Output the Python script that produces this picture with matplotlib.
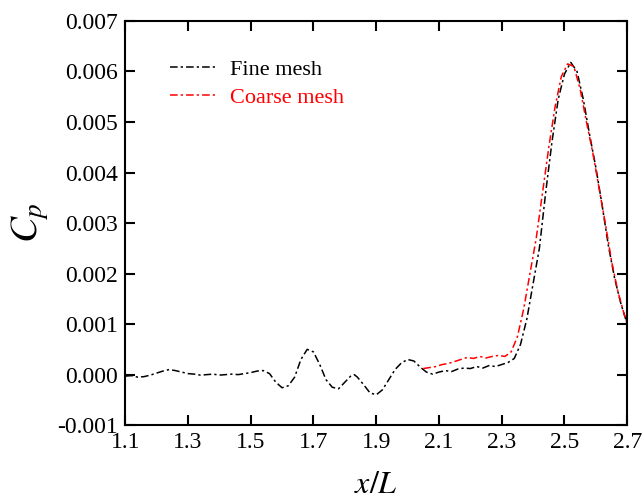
import numpy as np
import matplotlib
matplotlib.use("Agg")
import matplotlib.pyplot as plt

plt.rcParams["font.family"] = ["Liberation Serif", "DejaVu Serif"]
plt.rcParams["mathtext.fontset"] = "stix"

# Fine mesh pressure coefficient along x/L
fine_x = [1.10, 1.12, 1.14, 1.16, 1.18, 1.20, 1.22, 1.24, 1.26, 1.28,
          1.30, 1.32, 1.34, 1.36, 1.38, 1.40, 1.42, 1.44, 1.46, 1.48,
          1.50, 1.52, 1.54, 1.56, 1.58, 1.60, 1.62, 1.64, 1.66, 1.68,
          1.70, 1.72, 1.74, 1.76, 1.78, 1.80, 1.82, 1.83, 1.84, 1.86,
          1.88, 1.90, 1.92, 1.94, 1.96, 1.98, 2.00, 2.02, 2.04, 2.06,
          2.08, 2.10, 2.12, 2.14, 2.16, 2.18, 2.20, 2.22, 2.24, 2.26,
          2.28, 2.30, 2.32, 2.34, 2.36, 2.38, 2.40, 2.42, 2.44, 2.46,
          2.48, 2.50, 2.52, 2.54, 2.56, 2.58, 2.60, 2.62, 2.64, 2.66,
          2.68, 2.70]
fine_cp = [-0.00003, -0.00002, -0.00005, -0.00004, -0.00001, 0.00003, 0.00007, 0.00010, 0.00008, 0.00005,
           0.00002, 0.00001, -0.00001, 0.00000, 0.00001, -0.00001, 0.00000, 0.00001, 0.00000, 0.00002,
           0.00004, 0.00007, 0.00008, 0.00002, -0.00015, -0.00026, -0.00022, -0.00005, 0.00030, 0.00050,
           0.00045, 0.00020, -0.00010, -0.00025, -0.00028, -0.00015, -0.00002, 0.00000, -0.00005, -0.00020,
           -0.00036, -0.00040, -0.00030, -0.00010, 0.00010, 0.00023, 0.00030, 0.00027, 0.00015, 0.00005,
           0.00001, 0.00005, 0.00008, 0.00006, 0.00011, 0.00013, 0.00012, 0.00016, 0.00013, 0.00018,
           0.00016, 0.00020, 0.00024, 0.00032, 0.00060, 0.00110, 0.00180, 0.00250, 0.00360, 0.00460,
           0.00545, 0.00595, 0.00618, 0.00600, 0.00545, 0.00475, 0.00410, 0.00335, 0.00255, 0.00190,
           0.00140, 0.00100]

# Coarse mesh, only from x/L = 2.05
coarse_x = [2.05, 2.07, 2.09, 2.11, 2.13, 2.15, 2.17, 2.19, 2.21, 2.23,
            2.25, 2.27, 2.29, 2.31, 2.33, 2.35, 2.37, 2.39, 2.41, 2.43,
            2.45, 2.47, 2.49, 2.51, 2.53, 2.55, 2.57, 2.59, 2.61, 2.63,
            2.65, 2.67, 2.69, 2.70]
coarse_cp = [0.00012, 0.00014, 0.00016, 0.00020, 0.00022, 0.00026, 0.00030, 0.00034, 0.00032, 0.00036,
             0.00033, 0.00036, 0.00038, 0.00036, 0.00045, 0.00075, 0.00130, 0.00200, 0.00270, 0.00360,
             0.00450, 0.00530, 0.00590, 0.00615, 0.00610, 0.00565, 0.00500, 0.00440, 0.00370, 0.00300,
             0.00225, 0.00165, 0.00120, 0.00100]

x_ticks = [1.1, 1.3, 1.5, 1.7, 1.9, 2.1, 2.3, 2.5, 2.7]
y_ticks = [-0.001, 0.000, 0.001, 0.002, 0.003, 0.004, 0.005, 0.006, 0.007]

fig = plt.figure(figsize=(6.42, 4.99), dpi=100)
ax = fig.add_axes([0.195, 0.148, 0.782, 0.810])

dashdot = (0, (5, 2, 1.5, 2))
ax.plot(fine_x, fine_cp, color="black", lw=1.1, linestyle=dashdot, label="Fine mesh")
ax.plot(coarse_x, coarse_cp, color="red", lw=1.1, linestyle=dashdot, label="Coarse mesh")

ax.set_xlim(1.1, 2.7)
ax.set_ylim(-0.001, 0.007)
ax.set_xticks(x_ticks)
ax.set_xticklabels([f"{v:.1f}" for v in x_ticks])
ax.set_yticks(y_ticks)
ax.set_yticklabels([f"{v:.3f}" for v in y_ticks])
ax.tick_params(direction="in", top=True, right=True, length=7, width=1.5,
               labelsize=17, pad=5)
for s in ax.spines.values():
    s.set_linewidth(1.5)

ax.set_xlabel(r"$x/L$", fontsize=23, labelpad=13)
ax.set_ylabel(r"$C_p$", fontsize=28, labelpad=5)

ax.legend(loc="upper left", bbox_to_anchor=(0.05, 0.955), frameon=False,
          fontsize=16, handlelength=2.0, handletextpad=0.7, labelcolor="linecolor",
          labelspacing=0.35)

fig.savefig("out.png", dpi=100)
